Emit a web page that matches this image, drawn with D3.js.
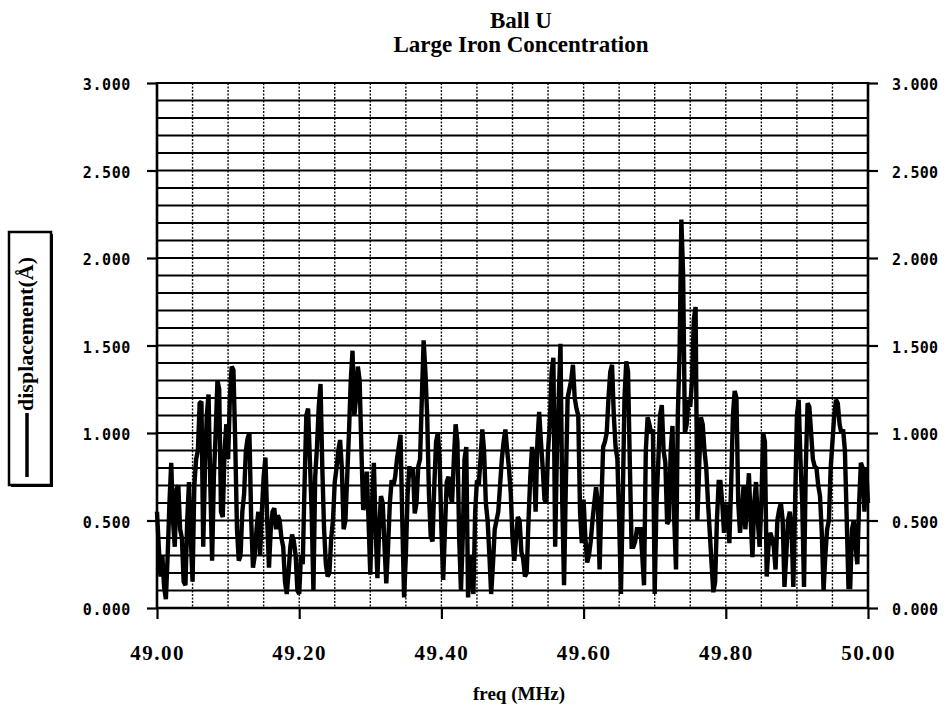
<!DOCTYPE html>
<html>
<head>
<meta charset="utf-8">
<script src="https://cdn.jsdelivr.net/npm/d3@7"></script>
<style>
  body { margin: 0; background: #fff; }
  svg { display: block; }
</style>
</head>
<body>
<div id="chart"></div>
<script>
var titleLines = ["Ball U", "Large Iron Concentration"];
var xLabel = "freq (MHz)";
var legendLabel = "displacement(\u00C5)";

// sampled spectrum, 49.00 .. 50.00 MHz every 0.0025 MHz
var freqStart = 49.0;
var freqStep = 0.0025;
var displacement = [
  0.55,0.35,0.18,0.3,0.12,0.05,0.3,0.6,0.83,0.5,
  0.35,0.68,0.7,0.45,0.4,0.15,0.13,0.5,0.72,0.4,
  0.15,0.7,0.85,0.9,1.17,1.18,0.35,0.8,1.1,1.22,
  0.7,0.27,0.75,1.0,1.3,1.25,0.55,0.52,0.9,1.05,
  0.85,1.2,1.38,1.36,0.95,0.45,0.27,0.3,0.55,0.65,
  0.9,0.97,1.0,0.5,0.23,0.3,0.45,0.55,0.3,0.55,
  0.75,0.86,0.5,0.23,0.45,0.55,0.57,0.45,0.53,0.5,
  0.4,0.35,0.15,0.08,0.2,0.35,0.42,0.38,0.3,0.1,
  0.08,0.3,0.25,0.7,1.1,1.14,0.85,0.55,0.1,0.75,
  0.92,1.15,1.28,0.8,0.45,0.25,0.18,0.2,0.4,0.5,
  0.72,0.8,0.9,0.96,0.8,0.45,0.5,0.75,1.0,1.3,
  1.47,1.1,1.2,1.38,1.3,0.9,0.56,0.6,0.78,0.5,
  0.19,0.6,0.83,0.45,0.17,0.45,0.64,0.6,0.35,0.14,
  0.35,0.6,0.73,0.7,0.75,0.85,0.92,0.99,0.5,0.06,
  0.3,0.65,0.81,0.75,0.8,0.54,0.6,0.81,0.85,1.2,
  1.53,1.35,1.1,0.65,0.41,0.38,0.7,0.95,1.0,0.85,
  0.45,0.16,0.45,0.72,0.75,0.65,0.6,0.85,1.05,0.95,
  0.4,0.1,0.4,0.85,0.92,0.06,0.3,0.2,0.08,0.55,
  0.73,0.7,0.85,1.02,0.9,0.6,0.5,0.3,0.08,0.25,
  0.45,0.5,0.55,0.7,0.85,0.95,1.02,0.9,0.8,0.66,
  0.4,0.27,0.4,0.52,0.5,0.32,0.28,0.18,0.2,0.5,
  0.75,0.92,0.85,0.55,0.95,1.12,0.95,0.8,0.62,0.6,
  0.9,1.05,1.35,1.43,0.35,0.9,1.2,1.51,0.6,0.13,
  0.7,1.2,1.25,1.3,1.39,1.2,1.14,1.1,0.55,0.37,
  0.62,0.4,0.26,0.3,0.38,0.5,0.6,0.69,0.6,0.22,
  0.6,0.92,0.95,1.0,1.2,1.35,1.39,1.1,0.92,0.85,
  0.5,0.08,0.6,1.2,1.41,1.35,0.83,0.35,0.35,0.38,
  0.45,0.45,0.45,0.3,0.13,0.9,1.09,1.05,1.0,1.02,
  0.08,0.6,0.83,1.1,1.16,0.9,0.83,0.48,0.5,0.9,
  1.04,0.5,0.22,1.1,1.47,2.22,1.9,1.0,1.05,1.19,
  1.15,1.3,1.65,1.72,0.5,0.8,1.09,1.05,0.9,0.8,
  0.6,0.43,0.25,0.09,0.15,0.5,0.72,0.72,0.6,0.43,
  0.58,0.58,0.37,0.7,1.1,1.24,1.2,0.6,0.43,0.55,
  0.7,0.45,0.6,0.77,0.5,0.29,0.6,0.72,0.5,0.35,
  0.6,1.0,0.95,0.18,0.35,0.43,0.4,0.35,0.22,0.5,
  0.56,0.6,0.5,0.12,0.3,0.5,0.55,0.45,0.12,0.6,
  1.1,1.19,0.85,0.6,0.12,0.8,1.17,1.15,1.0,0.85,
  0.81,0.8,0.7,0.64,0.43,0.1,0.3,0.45,0.5,0.8,
  0.95,1.1,1.19,1.17,1.05,1.0,1.02,0.9,0.52,0.12,
  0.12,0.45,0.5,0.35,0.25,0.6,0.83,0.8,0.55,0.8,0.6
];

var xTickValues = [49.0, 49.2, 49.4, 49.6, 49.8, 50.0];
var yTickValues = [0, 0.5, 1.0, 1.5, 2.0, 2.5, 3.0];
var xDomain = [49.0, 50.0];
var yDomain = [0, 3.0];

var W = 946, H = 711;
var plotLeft = 157, plotRight = 868, plotTop = 83, plotBottom = 608;
var serif = "'Liberation Serif', 'Times New Roman', serif";
var mono = "'DejaVu Sans Mono', monospace";

var svg = d3.select("#chart").append("svg")
    .attr("width", W)
    .attr("height", H);

svg.append("rect").attr("width", W).attr("height", H).attr("fill", "#fff");

var x = d3.scaleLinear().domain(xDomain).range([plotLeft, plotRight]);
var y = d3.scaleLinear().domain(yDomain).range([plotBottom, plotTop]);

// title
svg.selectAll("text.title")
    .data(titleLines)
    .enter().append("text")
    .attr("class", "title")
    .attr("x", 521)
    .attr("y", function(d, i) { return 28 + i * 24; })
    .attr("text-anchor", "middle")
    .attr("font-family", serif)
    .attr("font-weight", "bold")
    .attr("font-size", 23)
    .text(function(d) { return d; });

// vertical dotted grid
svg.append("g")
    .selectAll("line")
    .data(x.ticks(20))
    .enter().append("line")
    .attr("x1", function(d) { return x(d); })
    .attr("x2", function(d) { return x(d); })
    .attr("y1", plotTop)
    .attr("y2", plotBottom)
    .attr("stroke", "#111")
    .attr("stroke-width", 1.4)
    .attr("stroke-dasharray", "2,1.5");

// horizontal solid grid
svg.append("g")
    .selectAll("line")
    .data(y.ticks(30))
    .enter().append("line")
    .attr("x1", plotLeft)
    .attr("x2", plotRight)
    .attr("y1", function(d) { return y(d); })
    .attr("y2", function(d) { return y(d); })
    .attr("stroke", "#000")
    .attr("stroke-width", 2);

// data line
var line = d3.line()
    .x(function(d, i) { return x(freqStart + i * freqStep); })
    .y(function(d) { return y(d); });

svg.append("path")
    .datum(displacement)
    .attr("d", line)
    .attr("fill", "none")
    .attr("stroke", "#000")
    .attr("stroke-width", 4.4)
    .attr("stroke-linejoin", "miter")
    .attr("stroke-miterlimit", 2);

// axes
var yLeft = d3.axisLeft(y).tickValues(yTickValues).tickSize(10).tickPadding(16)
    .tickFormat(d3.format(".3f"));
var yRight = d3.axisRight(y).tickValues(yTickValues).tickSize(10).tickPadding(14)
    .tickFormat(d3.format(".3f"));
var xAxis = d3.axisBottom(x).tickValues(xTickValues).tickSize(11).tickPadding(26)
    .tickFormat(d3.format(".2f"));

function styleAxis(g, font, size, spacing) {
    g.select(".domain").remove();
    g.selectAll(".tick line").attr("stroke", "#000").attr("stroke-width", 2.2);
    g.selectAll(".tick text")
        .attr("fill", "#000")
        .attr("font-family", font)
        .attr("font-weight", "bold")
        .attr("font-size", size)
        .attr("letter-spacing", spacing);
}

var gl = svg.append("g").attr("transform", "translate(" + plotLeft + ",0)").call(yLeft);
styleAxis(gl, mono, 15, 0.6);
gl.selectAll(".tick text").attr("dy", "0.45em");

var gr = svg.append("g").attr("transform", "translate(" + plotRight + ",0)").call(yRight);
styleAxis(gr, mono, 15, 0.2);
gr.selectAll(".tick text").attr("dy", "0.45em");

var gb = svg.append("g").attr("transform", "translate(0," + plotBottom + ")").call(xAxis);
styleAxis(gb, serif, 21, 1.5);

// frame lines
svg.append("line").attr("x1", plotLeft).attr("x2", plotLeft).attr("y1", plotTop - 1).attr("y2", plotBottom + 1)
    .attr("stroke", "#000").attr("stroke-width", 2.6);
svg.append("line").attr("x1", plotRight).attr("x2", plotRight).attr("y1", plotTop - 1).attr("y2", plotBottom + 1)
    .attr("stroke", "#000").attr("stroke-width", 2.6);
svg.append("line").attr("x1", plotLeft).attr("x2", plotRight).attr("y1", plotBottom).attr("y2", plotBottom)
    .attr("stroke", "#000").attr("stroke-width", 2.6);

// x label
svg.append("text")
    .attr("x", 519)
    .attr("y", 700)
    .attr("text-anchor", "middle")
    .attr("font-family", serif)
    .attr("font-weight", "bold")
    .attr("font-size", 19)
    .text(xLabel);

// legend box
var lg = svg.append("g");
lg.append("rect")
    .attr("x", 11).attr("y", 234).attr("width", 42).attr("height", 253)
    .attr("fill", "#000");
lg.append("rect")
    .attr("x", 9).attr("y", 232).attr("width", 42).attr("height", 253)
    .attr("fill", "#fff").attr("stroke", "#000").attr("stroke-width", 2.5);
lg.append("line")
    .attr("x1", 27).attr("x2", 27).attr("y1", 413).attr("y2", 477)
    .attr("stroke", "#000").attr("stroke-width", 3.5);
lg.append("text")
    .attr("transform", "translate(33,411) rotate(-90)")
    .attr("font-family", serif)
    .attr("font-weight", "bold")
    .attr("font-size", 22)
    .text(legendLabel);
</script>
</body>
</html>
